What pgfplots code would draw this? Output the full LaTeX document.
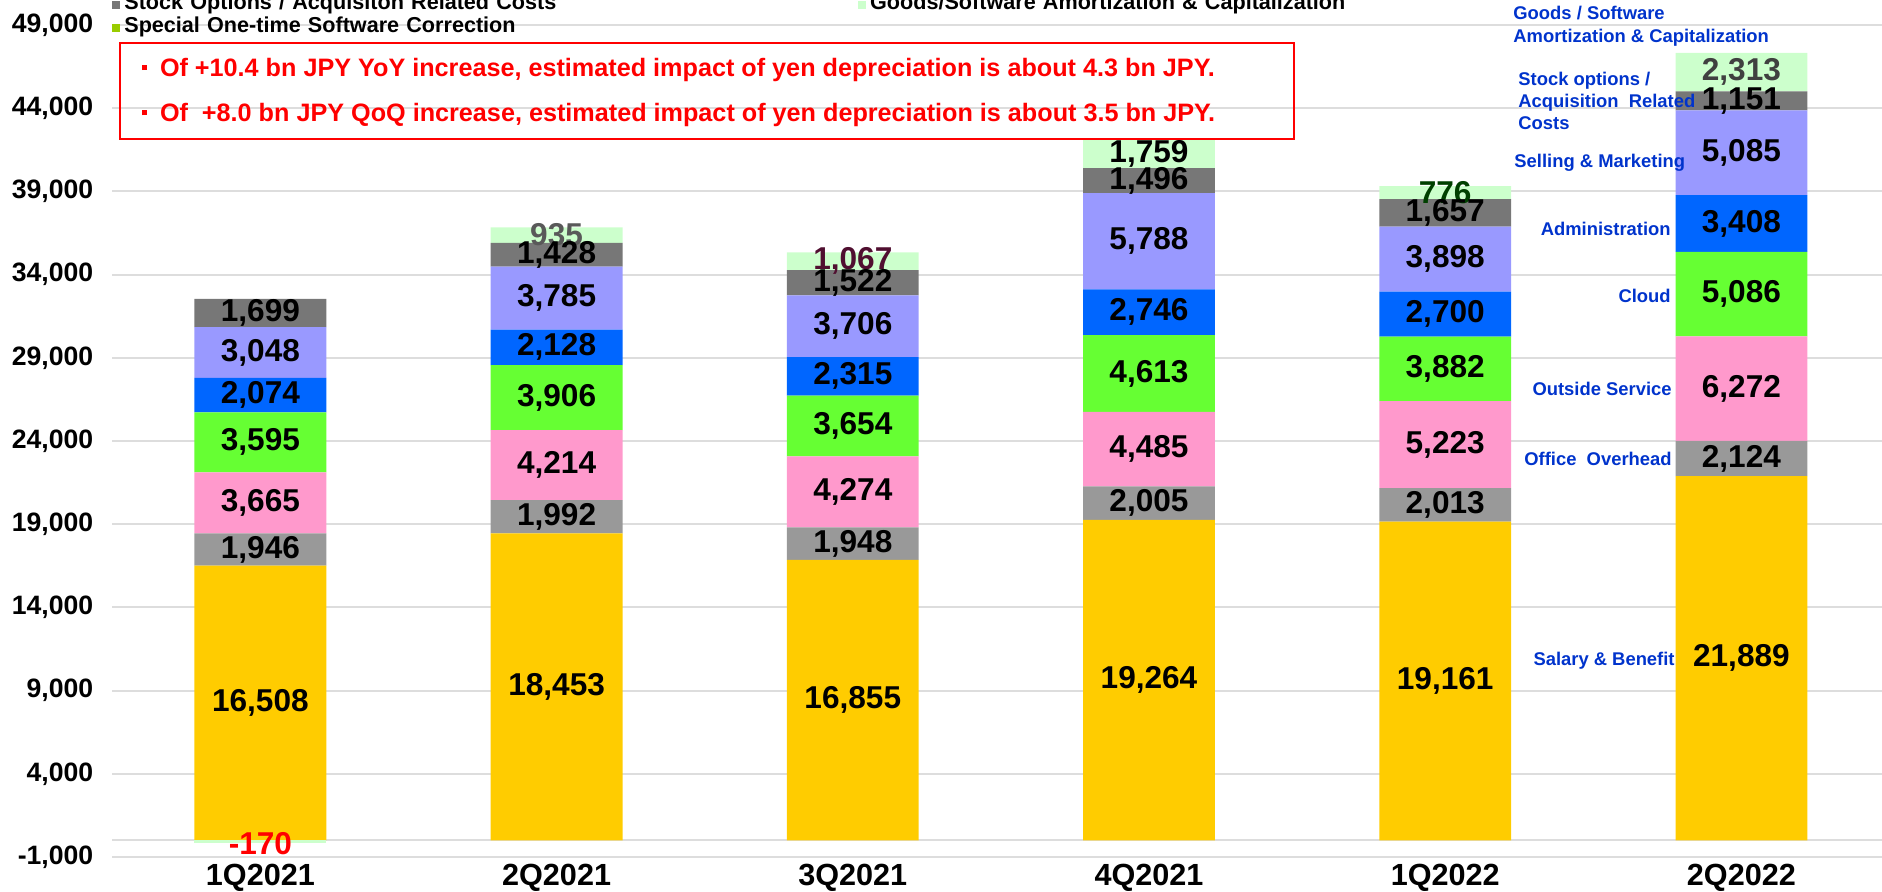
\documentclass[border=0pt]{standalone}
\usepackage{pgfplots}
\pgfplotsset{compat=1.18}
\usepackage{fontspec}
\setmainfont{Liberation Sans}
\definecolor{csal}{HTML}{FFCC00}
\definecolor{coff}{HTML}{999999}
\definecolor{cout}{HTML}{FF99CC}
\definecolor{ccld}{HTML}{66FF33}
\definecolor{cadm}{HTML}{0066FF}
\definecolor{csel}{HTML}{9999FF}
\definecolor{csto}{HTML}{777777}
\definecolor{cgds}{HTML}{CCFFCC}
\definecolor{cspc}{HTML}{99CC00}
\definecolor{cgrid}{HTML}{DDDDDD}
\definecolor{cblue}{HTML}{0033CC}
\definecolor{g935}{HTML}{595959}
\definecolor{g1067}{HTML}{500F30}
\definecolor{g776}{HTML}{004000}
\definecolor{g2313}{HTML}{404040}
\newcommand\vfont{\fontsize{15.8}{18}\selectfont\bfseries}
\newcommand\rfont{\fontsize{12.6}{15}\selectfont\bfseries}
\newcommand\bfont{\fontsize{9.2}{11}\selectfont\bfseries}
\pgfplotsset{
  common/.style={scale only axis, width=888.6pt, height=416pt,
    xmin=-0.5, xmax=5.5, ymin=-1000, ymax=49000, at={(0,0)}, anchor=south west},
  vlab/.style={
    nodes near coords={\pgfmathprintnumber{\pgfplotspointmeta}},
    point meta=rawy,
    every node near coord/.append style={anchor=center, font=\vfont, text=black},
  },
  glab/.style={
    nodes near coords={\pgfplotspointmeta},
    point meta=explicit symbolic,
    every node near coord/.append style={anchor=center, font=\vfont, text=black},
  },
}
\begin{document}
\begin{tikzpicture}
\begin{axis}[common,
  ybar stacked, bar width=0.445,
  xtick={0,...,5}, xticklabels={1Q2021,2Q2021,3Q2021,4Q2021,1Q2022,2Q2022},
  ytick={-1000,4000,...,49000},
  ymajorgrids, grid style={cgrid, line width=1pt},
  axis line style={draw=none}, major tick length=0pt, tick style={draw=none},
  x tick label style={font=\fontsize{15.3}{18}\selectfont\bfseries},
  y tick label style={font=\fontsize{13.3}{16}\selectfont\bfseries, xshift=-6pt},
  scaled y ticks=false,
  /pgf/number format/1000 sep={,}, /pgf/number format/assume math mode=true,
  extra y ticks={0}, extra y tick labels={}, extra y tick style={grid=major},
  clip=false,
]
\addplot[fill=csal, draw=none, vlab] coordinates {(0,16508) (1,18453) (2,16855) (3,19264) (4,19161) (5,21889)};
\addplot[fill=coff, draw=none, vlab] coordinates {(0,1946) (1,1992) (2,1948) (3,2005) (4,2013) (5,2124)};
\addplot[fill=cout, draw=none, vlab] coordinates {(0,3665) (1,4214) (2,4274) (3,4485) (4,5223) (5,6272)};
\addplot[fill=ccld, draw=none, vlab] coordinates {(0,3595) (1,3906) (2,3654) (3,4613) (4,3882) (5,5086)};
\addplot[fill=cadm, draw=none, vlab] coordinates {(0,2074) (1,2128) (2,2315) (3,2746) (4,2700) (5,3408)};
\addplot[fill=csel, draw=none, vlab] coordinates {(0,3048) (1,3785) (2,3706) (3,5788) (4,3898) (5,5085)};
\addplot[fill=csto, draw=none, vlab] coordinates {(0,1699) (1,1428) (2,1522) (3,1496) (4,1657) (5,1151)};
\addplot[fill=cgds, draw=none, glab] coordinates {(0,0) [\relax] (1,935) [\textcolor{g935}{935}] (2,1067) [\textcolor{g1067}{1,067}] (3,1759) [1,759] (4,776) [\textcolor{g776}{776}] (5,2313) [\textcolor{g2313}{2,313}]};
\end{axis}
\begin{axis}[common, hide axis, ybar, bar width=0.445, bar shift=0pt, clip=false,
  /pgf/number format/assume math mode=true,
  legend style={at={(-0.0002,1.0376)}, anchor=north west, draw=none, fill=none,
    inner sep=0pt, outer sep=0pt, legend columns=2,
    font=\fontsize{10.8}{13}\selectfont\bfseries,
    nodes={inner sep=0pt, text height=8pt, text depth=3.5pt, text width=364.7pt},
    /tikz/column sep=2pt},
  legend cell align=left,
  legend image code/.code={\fill[#1] (0pt,-2.1pt) rectangle (4.2pt,2.1pt);},
]
\addlegendimage{fill=csto, draw=none}
\addlegendentry{Stock Options / Acquisiton Related Costs}
\addlegendimage{fill=cgds, draw=none}
\addlegendentry{Goods/Software Amortization \& Capitalization}
\addlegendimage{fill=cspc, draw=none}
\addlegendentry{Special One-time Software Correction}
\addplot[fill=cgds, draw=none, forget plot,
  nodes near coords={\pgfmathprintnumber{\pgfplotspointmeta}}, point meta=rawy,
  every node near coord/.append style={anchor=center, text=red, font=\vfont}]
  coordinates {(0,-170)};
\end{axis}
\begin{scope}[x=0.5pt, y=-0.5pt, shift={(-112.3,-857)}]
\draw[red, line width=1.2pt] (120,43) rectangle (1294,139);
\node[anchor=base west, inner sep=0pt, text=red, font=\rfont] at (141.6,76.5)
  {\rule[3.2pt]{2.6pt}{2.6pt}\hspace{6.4pt}Of +10.4 bn JPY YoY increase, estimated impact of yen depreciation is about 4.3 bn JPY.};
\node[anchor=base west, inner sep=0pt, text=red, font=\rfont] at (141.6,121.7)
  {\rule[3.2pt]{2.6pt}{2.6pt}\hspace{6.4pt}Of\ \ +8.0 bn JPY QoQ increase, estimated impact of yen depreciation is about 3.5 bn JPY.};
\begin{scope}[every node/.style={inner sep=0pt, text=cblue, font=\bfont}]
\node[anchor=base west] at (1513,19.6) {Goods / Software};
\node[anchor=base west] at (1513,42.6) {Amortization \& Capitalization};
\node[anchor=base west] at (1518,85.6) {Stock options /};
\node[anchor=base west] at (1518,107.6) {Acquisition\ \ Related};
\node[anchor=base west] at (1518,129.6) {Costs};
\node[anchor=base west] at (1514,167.6) {Selling \& Marketing};
\node[anchor=base east] at (1671,235.6) {Administration};
\node[anchor=base east] at (1671,302.6) {Cloud};
\node[anchor=base east] at (1672,395.6) {Outside Service};
\node[anchor=base east] at (1672,465.6) {Office\ \ Overhead};
\node[anchor=base east] at (1675,665.6) {Salary \& Benefit};
\end{scope}
\pgfresetboundingbox
\path[use as bounding box] (0,0) rectangle (1882,892);
\end{scope}
\end{tikzpicture}
\end{document}
